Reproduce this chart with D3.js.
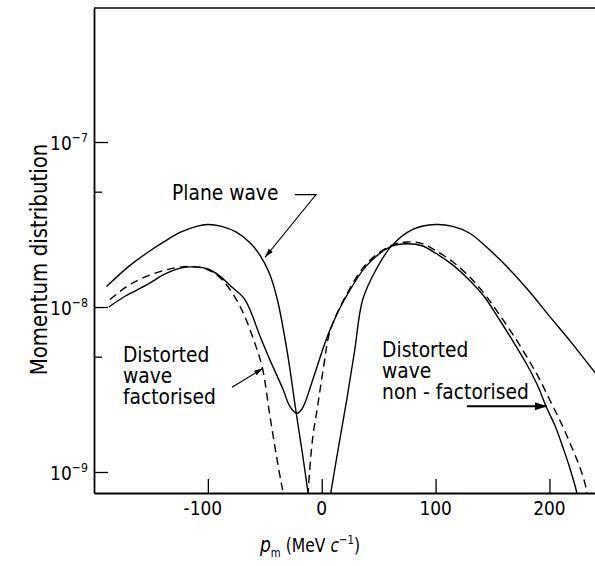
<!DOCTYPE html>
<html>
<head>
<meta charset="utf-8">
<script src="https://cdn.jsdelivr.net/npm/d3@7"></script>
<style>
  html, body { margin: 0; padding: 0; background: #fff; }
  svg { display: block; }
  text { font-family: "DejaVu Sans", "Liberation Sans", sans-serif; fill: #000; }
</style>
</head>
<body>
<svg id="chart" width="595" height="566"></svg>
<script>
// Momentum distributions, [p_m (MeV/c), value] per branch of each curve.
const planeWaveLeft = [
  [-189, 1.33e-8], [-170, 1.75e-8], [-153, 2.14e-8], [-138, 2.5e-8], [-124, 2.84e-8],
  [-110, 3.08e-8], [-100, 3.16e-8], [-88, 3.08e-8], [-75, 2.84e-8], [-63, 2.45e-8],
  [-54, 2.05e-8], [-46, 1.6e-8], [-39, 1.11e-8], [-30, 5.2e-9], [-22.4, 2.27e-9],
  [-17, 1.3e-9], [-12, 7.5e-10], [-8, 4.9e-10]
];
const planeWaveRight = [
  [4, 5e-10], [8, 7.5e-10], [15, 1.45e-9], [22, 2.75e-9], [29, 5.5e-9], [36, 1.11e-8],
  [48, 1.7e-8], [61, 2.33e-8], [80, 2.95e-8], [100, 3.16e-8], [115, 3.08e-8],
  [130, 2.8e-8], [148, 2.2e-8], [165, 1.69e-8], [182, 1.25e-8], [200, 8.8e-9],
  [220, 6.0e-9], [240, 4.0e-9]
];
const factorisedLeft = [
  [-186, 1.11e-8], [-172, 1.32e-8], [-160, 1.47e-8], [-142, 1.64e-8], [-128, 1.73e-8],
  [-116, 1.76e-8], [-104, 1.72e-8], [-94, 1.6e-8], [-85, 1.4e-8], [-75, 1.11e-8],
  [-68, 8.9e-9], [-60, 6.4e-9], [-52, 4.24e-9], [-46, 2.3e-9], [-40, 1.28e-9],
  [-36, 8.9e-10], [-34, 7.5e-10], [-32, 5e-10]
];
const factorisedRight = [
  [-13.5, 5e-10], [-12, 7.5e-10], [-8, 1.6e-9], [-4, 2.4e-9], [2, 4.5e-9], [7, 7.0e-9],
  [20, 1.13e-8], [40, 1.85e-8], [61, 2.36e-8], [75, 2.48e-8], [88, 2.42e-8],
  [100, 2.2e-8], [115, 1.88e-8], [130, 1.52e-8], [143, 1.2e-8], [156, 9e-9],
  [168, 6.8e-9], [180, 5e-9], [190, 3.8e-9], [200, 2.76e-9], [210, 2.0e-9],
  [218, 1.5e-9], [226, 1.1e-9], [232, 8.1e-10], [236, 5.5e-10]
];
const nonFactorised = [
  [-187, 1.0e-8], [-172, 1.17e-8], [-153, 1.37e-8], [-138, 1.58e-8], [-124, 1.72e-8],
  [-114, 1.75e-8], [-100, 1.7e-8], [-90, 1.55e-8], [-80, 1.34e-8], [-67.5, 1.11e-8],
  [-54, 6.6e-9], [-45.6, 4.8e-9], [-34, 3.17e-9], [-28, 2.5e-9], [-22, 2.27e-9],
  [-17.5, 2.4e-9], [-8, 3.6e-9], [0, 5.3e-9], [7, 7.2e-9], [20, 1.11e-8], [40, 1.8e-8],
  [61, 2.33e-8], [75, 2.42e-8], [88, 2.35e-8], [100, 2.12e-8], [115, 1.8e-8],
  [130, 1.45e-8], [143, 1.15e-8], [156, 8.4e-9], [168, 6.2e-9], [180, 4.5e-9],
  [190, 3.3e-9], [197, 2.5e-9], [205, 1.9e-9], [212, 1.4e-9], [218, 1.05e-9],
  [224, 7.5e-10], [227, 5.5e-10]
];

// Axis ticks
const xTicks = [-100, 0, 100, 200];
const yMajorTicks = [1e-9, 1e-8, 1e-7];
const yMinorTicks = [5e-9, 5e-8];
const yTickExponents = ["\u22129", "\u22128", "\u22127"];

// Annotations, anchored in data units
const planeLabel = { p: -131.5, v: 4.43e-8, lines: ["Plane wave"] };
const planeLeader = [[-23.5, 4.8e-8], [-5, 4.8e-8], [-49.8, 2.0e-8]];
const factLabel = { p: -174.6, v: 4.62e-9, lines: ["Distorted", "wave", "factorised"] };
const factLeader = [[-78.8, 3.26e-9], [-51.6, 4.25e-9]];
const nonFactLabel = { p: 53, v: 4.95e-9, lines: ["Distorted", "wave", "non - factorised"] };
const nonFactLeader = [[127.5, 2.5e-9], [197.8, 2.5e-9]];

const svg = d3.select("#chart");
const plot = { left: 94, right: 595, top: 8, bottom: 493 };

const x = d3.scaleLinear().domain([-200, 240]).range([plot.left, plot.right]);
const y = d3.scaleLog().domain([7.46e-10, 6.49e-7]).range([plot.bottom, plot.top]);

svg.append("defs").append("clipPath").attr("id", "plot-clip")
  .append("rect")
  .attr("x", plot.left).attr("y", plot.top)
  .attr("width", plot.right - plot.left).attr("height", plot.bottom - plot.top);

// Curves
const line = d3.line()
  .x(d => x(d[0]))
  .y(d => y(d[1]))
  .curve(d3.curveCatmullRom.alpha(0.5));

const curves = svg.append("g").attr("clip-path", "url(#plot-clip)")
  .attr("fill", "none").attr("stroke", "#000").attr("stroke-width", 1.4);

[planeWaveLeft, planeWaveRight, nonFactorised].forEach(d => {
  curves.append("path").attr("d", line(d));
});
[factorisedLeft, factorisedRight].forEach(d => {
  curves.append("path").attr("d", line(d)).attr("stroke-dasharray", "8,5");
});

// Axes with inward ticks
const xAxis = svg.append("g")
  .attr("transform", `translate(0,${plot.bottom})`)
  .call(d3.axisBottom(x).tickValues(xTicks).tickSizeInner(-14).tickSizeOuter(0).tickFormat(""));
const yAxis = svg.append("g")
  .attr("transform", `translate(${plot.left},0)`)
  .call(d3.axisLeft(y).tickValues(yMajorTicks).tickSizeInner(-14).tickSizeOuter(0).tickFormat(""));
const yMinor = svg.append("g")
  .attr("transform", `translate(${plot.left},0)`)
  .call(d3.axisLeft(y).tickValues(yMinorTicks).tickSizeInner(-8).tickSizeOuter(0).tickFormat(""));
yMinor.select(".domain").remove();

[xAxis, yAxis, yMinor].forEach(g => {
  g.selectAll("line").attr("stroke", "#000").attr("stroke-width", 1.3);
  g.select(".domain").attr("stroke", "#000").attr("stroke-width", 1.8);
});

svg.append("line")
  .attr("x1", plot.left).attr("x2", plot.right)
  .attr("y1", plot.top).attr("y2", plot.top)
  .attr("stroke", "#000").attr("stroke-width", 1.6);

// Tick labels
const squeeze = 0.85;
svg.append("g").selectAll("text").data(xTicks).join("text")
  .attr("transform", d => `translate(${x(d) + (d < 0 ? -5 : 0)},${plot.bottom + 22}) scale(${squeeze},1)`)
  .attr("text-anchor", "middle")
  .attr("font-size", 20)
  .text(d => d < 0 ? "-" + Math.abs(d) : String(d));

const yLabels = svg.append("g").selectAll("text").data(yMajorTicks).join("text")
  .attr("transform", d => `translate(${plot.left - 6},${y(d) + 8}) scale(${squeeze},1)`)
  .attr("text-anchor", "end")
  .attr("font-size", 20);
yLabels.append("tspan").text("10");
yLabels.append("tspan").attr("font-size", 13).attr("dy", -8)
  .text((d, i) => yTickExponents[i]);

// Axis titles
const xTitle = svg.append("text")
  .attr("transform", `translate(310,552) scale(0.78,1)`)
  .attr("text-anchor", "middle")
  .attr("font-size", 20);
xTitle.append("tspan").attr("font-style", "italic").attr("font-size", 22).text("p");
xTitle.append("tspan").attr("font-size", 13).attr("dy", 5).text("m");
xTitle.append("tspan").attr("dy", -5).text(" (MeV ");
xTitle.append("tspan").attr("font-style", "italic").text("c");
xTitle.append("tspan").attr("font-size", 13).attr("dy", -8).text("\u22121");
xTitle.append("tspan").attr("dy", 8).text(")");

svg.append("text")
  .attr("transform", `translate(47,259.5) rotate(-90) scale(0.86,1)`)
  .attr("text-anchor", "middle")
  .attr("font-size", 23)
  .text("Momentum distribution");

// Annotations
const annSize = 21, annSqueeze = 0.89, annLeading = 21;
function drawLabel(lab) {
  lab.lines.forEach((s, i) => {
    svg.append("text")
      .attr("transform", `translate(${x(lab.p)},${y(lab.v) + i * annLeading}) scale(${annSqueeze},1)`)
      .attr("font-size", annSize)
      .text(s);
  });
}
function drawLeader(pts, width, headLen, headHalf) {
  const px = pts.map(d => [x(d[0]), y(d[1])]);
  svg.append("path")
    .attr("d", d3.line()(px))
    .attr("fill", "none").attr("stroke", "#000").attr("stroke-width", width);
  const tip = px[px.length - 1], from = px[px.length - 2];
  const a = Math.atan2(tip[1] - from[1], tip[0] - from[0]);
  const bx = tip[0] - headLen * Math.cos(a), by = tip[1] - headLen * Math.sin(a);
  const nx = -Math.sin(a) * headHalf, ny = Math.cos(a) * headHalf;
  svg.append("path")
    .attr("d", `M${tip[0]},${tip[1]}L${bx + nx},${by + ny}L${bx - nx},${by - ny}Z`)
    .attr("fill", "#000");
}

drawLabel(planeLabel);
drawLeader(planeLeader, 1.1, 9, 2.6);
drawLabel(factLabel);
drawLeader(factLeader, 1.1, 9, 2.6);
drawLabel(nonFactLabel);
drawLeader(nonFactLeader, 2, 12, 4);
</script>
</body>
</html>
